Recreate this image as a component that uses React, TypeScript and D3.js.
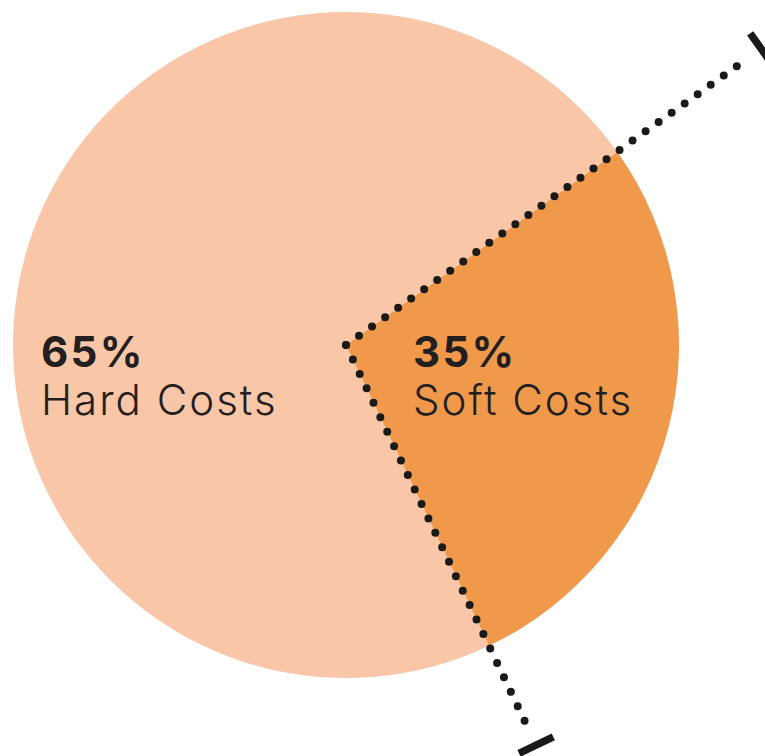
import { useEffect } from 'react';
import * as d3 from 'd3';

// Printed labels on the chart
const categories = ['Soft Costs', 'Hard Costs'];
const labelPercents = [35, 65];
// Wedge sizes as drawn in the artwork (the soft wedge is drawn narrower than 35%)
const drawnShares = [27.8, 72.2];
const colors = ['#F0994B', '#F9C6A7'];

const width = 765;
const height = 756;
const cx = 346;
const cy = 345;
const radius = 333;
const startDeg = 54.5;

const App = () => {
  useEffect(() => {
    document.body.style.margin = '0';
  }, []);

  const pie = d3
    .pie<number>()
    .sort(null)
    .value((d) => d)
    .startAngle((startDeg * Math.PI) / 180)
    .endAngle(((startDeg + 360) * Math.PI) / 180);
  const arcs = pie(drawnShares);
  const arc = d3.arc<d3.PieArcDatum<number>>().innerRadius(0).outerRadius(radius);

  const soft = arcs[0];
  // dotted leader lines along both edges of the soft wedge, ending in a solid tick
  const leaders = [
    { angle: soft.startAngle, len: 493, tick: 510 },
    { angle: soft.endAngle, len: 427, tick: 443 },
  ];
  const tickHalf = 19;

  const labelPos = [
    { x: 413, y: 367 },
    { x: 41, y: 367 },
  ];

  return (
    <svg width={width} height={height} style={{ display: 'block' }}>
      <rect width={width} height={height} fill="#ffffff" />
      <g transform={`translate(${cx},${cy})`}>
        {arcs.map((a, i) => (
          <path key={categories[i]} d={arc(a) || ''} fill={colors[i]} />
        ))}
        {leaders.map((l, i) => {
          const dx = Math.sin(l.angle);
          const dy = -Math.cos(l.angle);
          const tx = dx * l.tick;
          const ty = dy * l.tick;
          return (
            <g key={i}>
              <line
                x1={0}
                y1={0}
                x2={dx * l.len}
                y2={dy * l.len}
                stroke="#1a1a1a"
                strokeWidth={8}
                strokeLinecap="round"
                strokeDasharray="0 16"
              />
              <line
                x1={tx - dy * tickHalf}
                y1={ty + dx * tickHalf}
                x2={tx + dy * tickHalf}
                y2={ty - dx * tickHalf}
                stroke="#1a1a1a"
                strokeWidth={7.5}
              />
            </g>
          );
        })}
      </g>
      {categories.map((c, i) => (
        <g key={c} fontFamily="Inter, 'Noto Sans', sans-serif" fill="#231F20">
          <text x={labelPos[i].x} y={labelPos[i].y} fontSize={42} fontWeight={700} letterSpacing={2.3}>
            {labelPercents[i]}%
          </text>
          <text x={labelPos[i].x} y={labelPos[i].y + 48} fontSize={42} fontWeight={300} letterSpacing={2}>
            {c}
          </text>
        </g>
      ))}
    </svg>
  );
};

export default App;
